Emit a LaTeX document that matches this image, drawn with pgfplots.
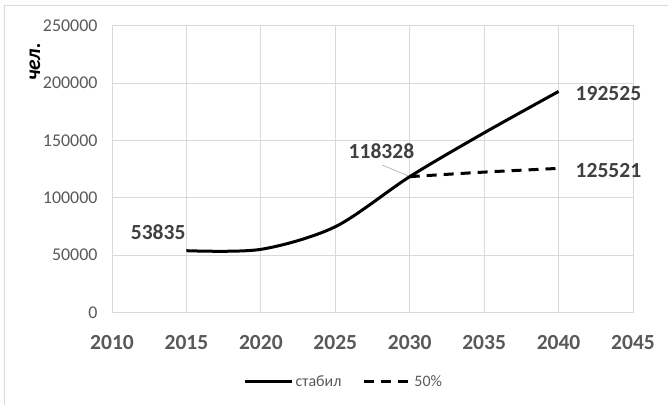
\documentclass[border=0pt]{standalone}
\usepackage{pgfplots}
\pgfplotsset{compat=1.18}
\usepackage{fontspec}
\setmainfont{Carlito}
\definecolor{tickgray}{HTML}{595959}
\definecolor{labgray}{HTML}{404040}
\definecolor{gridgray}{HTML}{D9D9D9}
\begin{document}
\begin{tikzpicture}
\begin{axis}[
  scale only axis, width=521bp, height=287bp,
  xmin=2010, xmax=2045, ymin=0, ymax=250000,
  clip=false,
  xtick={2010,2015,...,2045}, ytick={0,50000,...,250000},
  xticklabels={2010,2015,2020,2025,2030,2035,2040,2045},
  yticklabels={0,50000,100000,150000,200000,250000},
  grid=major, major grid style={gridgray, line width=0.75bp},
  axis line style={gridgray, line width=0.75bp},
  tick style={draw=none},
  scaled y ticks=false,
  yticklabel style={font=\fontsize{18}{20}\selectfont, text=tickgray, xshift=-11bp},
  xticklabel style={font=\fontsize{21.6}{24}\selectfont\bfseries, text=tickgray, yshift=-19.5bp},
  legend style={at={(0.445,-0.241)}, anchor=center, draw=none, fill=none,
    font=\fontsize{16}{18}\selectfont, text=tickgray, legend columns=2,
    /tikz/every even column/.append style={column sep=19bp}},
  legend image code/.code={\draw[#1] (0bp,0bp) -- (47bp,0bp);},
]
\addplot[black, line width=3bp, smooth] coordinates {
  (2015,53835) (2020,55000) (2025,74700)
  (2030,118328) (2035,156500) (2040,192525)};
\addlegendentry{стабил}
\addplot[black, line width=3bp, dash pattern=on 10bp off 7bp, smooth] coordinates {
  (2030,118328) (2035,122300) (2040,125521)};
\addlegendentry{50\%}
\draw[gray!70, line width=0.6bp] (axis cs:2028.14,128500) -- (axis cs:2029.9,119000);
\node[font=\fontsize{21.6}{24}\selectfont\bfseries, text=labgray] at (axis cs:2013.1,70400) {53835};
\node[font=\fontsize{21.6}{24}\selectfont\bfseries, text=labgray] at (axis cs:2028.1,140900) {118328};
\node[font=\fontsize{21.6}{24}\selectfont\bfseries, text=labgray] at (axis cs:2043.35,124100) {125521};
\node[font=\fontsize{21.6}{24}\selectfont\bfseries, text=labgray] at (axis cs:2043.35,190900) {192525};
\end{axis}
\node[rotate=90, font=\fontsize{21.6}{24}\selectfont\bfseries\itshape] at (-77bp,250.5bp) {чел.};
\draw[gridgray, line width=0.75bp] (-108bp,-95bp) -- (-108bp,307.5bp) -- (560bp,307.5bp);
\pgfresetboundingbox
\useasboundingbox (-112bp,-92.5bp) rectangle (556bp,312.5bp);
\end{tikzpicture}
\end{document}
